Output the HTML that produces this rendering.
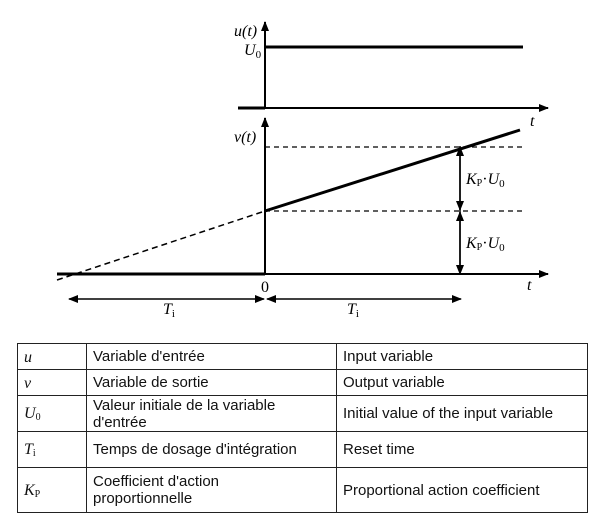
<!DOCTYPE html>
<html><head><style>
body{margin:0;width:605px;height:525px;background:#fff;position:relative;overflow:hidden}
svg{position:absolute;left:0;top:0}
table{position:absolute;left:17px;top:343px;width:571px;border-collapse:collapse;font-family:"Liberation Sans",sans-serif;font-size:15px;color:#111;table-layout:fixed}
td{border:1px solid #222;padding:0 6px;vertical-align:middle;line-height:17px}
td.s{font-family:"Liberation Serif",serif;font-style:italic;font-size:16px;padding-top:2px}
sub{font-style:normal;font-size:10px;vertical-align:baseline;position:relative;top:2px}
</style></head><body>
<svg width="605" height="340" font-family="Liberation Serif,serif" font-size="16" font-style="italic">
<defs><marker id="a" markerWidth="10" markerHeight="8" refX="9" refY="4" orient="auto" markerUnits="userSpaceOnUse"><path d="M0,0L10,4L0,8z" fill="#000"/></marker></defs>
<g stroke="#000" fill="none">
<line x1="265" y1="108" x2="265" y2="22" stroke-width="2" marker-end="url(#a)"/>
<line x1="265" y1="47" x2="523" y2="47" stroke-width="3"/>
<line x1="238" y1="108" x2="265" y2="108" stroke-width="3"/>
<line x1="265" y1="108" x2="548" y2="108" stroke-width="2" marker-end="url(#a)"/>
<line x1="265" y1="274" x2="265" y2="118" stroke-width="2" marker-end="url(#a)"/>
<line x1="57" y1="274" x2="265" y2="274" stroke-width="3"/>
<line x1="265" y1="274" x2="548" y2="274" stroke-width="2" marker-end="url(#a)"/>
<line x1="265" y1="147" x2="526" y2="147" stroke-width="1.2" stroke-dasharray="5,4"/>
<line x1="265" y1="211" x2="526" y2="211" stroke-width="1.2" stroke-dasharray="5,4"/>
<line x1="57" y1="280" x2="265" y2="211" stroke-width="1.5" stroke-dasharray="6,4"/>
<line x1="265" y1="211" x2="520" y2="130" stroke-width="3"/>
<line x1="460" y1="212" x2="460" y2="147" stroke-width="1.5" marker-end="url(#a)"/>
<line x1="460" y1="146" x2="460" y2="210" stroke-width="1.5" marker-end="url(#a)"/>
<line x1="460" y1="212" x2="460" y2="274" stroke-width="1.5" marker-end="url(#a)"/>
<line x1="460" y1="272" x2="460" y2="212" stroke-width="1.5" marker-end="url(#a)"/>
<line x1="150" y1="299" x2="69" y2="299" stroke-width="1.5" marker-end="url(#a)"/>
<line x1="150" y1="299" x2="264" y2="299" stroke-width="1.5" marker-end="url(#a)"/>
<line x1="360" y1="299" x2="267" y2="299" stroke-width="1.5" marker-end="url(#a)"/>
<line x1="360" y1="299" x2="461" y2="299" stroke-width="1.5" marker-end="url(#a)"/>
</g>
<g fill="#000">
<text x="234" y="36">u(t)</text>
<text x="244" y="55">U<tspan font-size="11" font-style="normal" dy="3">0</tspan></text>
<text x="530" y="126">t</text>
<text x="234" y="142">v(t)</text>
<text x="466" y="184">K<tspan font-size="10" font-style="normal" dy="2">P</tspan><tspan dy="-2" font-style="normal">·</tspan>U<tspan font-size="11" font-style="normal" dy="3">0</tspan></text>
<text x="466" y="248">K<tspan font-size="10" font-style="normal" dy="2">P</tspan><tspan dy="-2" font-style="normal">·</tspan>U<tspan font-size="11" font-style="normal" dy="3">0</tspan></text>
<text x="261" y="292" font-style="normal">0</text>
<text x="527" y="290">t</text>
<text x="163" y="314">T<tspan font-size="11" font-style="normal" dy="3">i</tspan></text>
<text x="347" y="314">T<tspan font-size="11" font-style="normal" dy="3">i</tspan></text>
</g>
</svg>
<table>
<colgroup><col style="width:69px"><col style="width:250px"><col></colgroup>
<tr style="height:26px"><td class="s">u</td><td>Variable d'entrée</td><td>Input variable</td></tr>
<tr style="height:26px"><td class="s">v</td><td>Variable de sortie</td><td>Output variable</td></tr>
<tr style="height:36px"><td class="s">U<sub>0</sub></td><td>Valeur initiale de la variable d'entrée</td><td>Initial value of the input variable</td></tr>
<tr style="height:36px"><td class="s">T<sub>i</sub></td><td>Temps de dosage d'intégration</td><td>Reset time</td></tr>
<tr style="height:45px"><td class="s">K<sub>P</sub></td><td>Coefficient d'action<br>proportionnelle</td><td>Proportional action coefficient</td></tr>
</table>
</body></html>
